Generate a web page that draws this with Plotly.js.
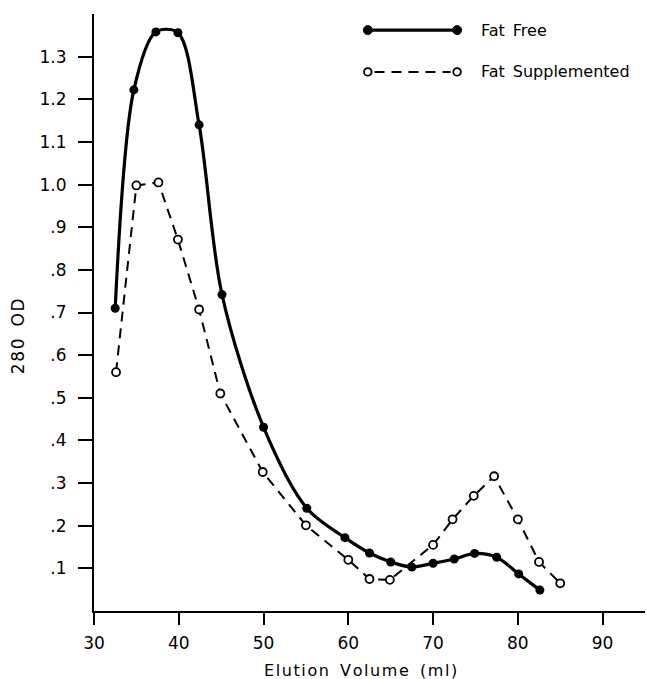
<!DOCTYPE html>
<html><head><meta charset="utf-8">
<script src="https://cdn.plot.ly/plotly-3.0.1.min.js"></script>
<style>html,body{margin:0;padding:0;background:#fff}#chart{width:647px;height:679px}</style>
</head><body><div id="chart"></div>
<script>
// Elution volume (ml) and 280 OD readings
const fatFreeX = [32.5, 34.7, 37.3, 39.9, 42.4, 45.1, 50.0, 55.1, 59.6, 62.5, 65.0, 67.5, 70.0, 72.5, 74.9, 77.5, 80.1, 82.6];
const fatFreeY = [0.71, 1.222, 1.358, 1.356, 1.14, 0.742, 0.431, 0.241, 0.172, 0.136, 0.115, 0.103, 0.112, 0.122, 0.135, 0.126, 0.087, 0.049];
const fatSuppX = [32.6, 35.0, 37.6, 39.9, 42.4, 44.9, 49.9, 55.0, 60.0, 62.5, 64.9, 70.0, 72.3, 74.8, 77.2, 80.0, 82.5, 85.0];
const fatSuppY = [0.56, 0.998, 1.005, 0.871, 0.707, 0.51, 0.326, 0.201, 0.12, 0.075, 0.073, 0.155, 0.215, 0.27, 0.316, 0.215, 0.115, 0.065];
const seriesNames = ["Fat Free", "Fat Supplemented"];
const xTicks = [30, 40, 50, 60, 70, 80, 90];
const yTicks = [0.1, 0.2, 0.3, 0.4, 0.5, 0.6, 0.7, 0.8, 0.9, 1.0, 1.1, 1.2, 1.3];
const yTickText = [".1", ".2", ".3", ".4", ".5", ".6", ".7", ".8", ".9", "1.0", "1.1", "1.2", "1.3"];
const xTitle = "Elution Volume (ml)";
const yTitle = "280 OD";

const FONT = "DejaVu Sans, Liberation Sans, sans-serif";
// widen letter spacing like the hand lettering
const spaced = s => s.split("").map(c => c === " " ? "\u2002" : c).join("\u200A");
const wordSpaced = s => s.replace(/ /g, "\u2002");

const traces = [
  {
    x: fatSuppX, y: fatSuppY, name: seriesNames[1], type: "scatter", mode: "lines+markers",
    line: {color: "#000", width: 2, dash: "10px,7px"},
    marker: {symbol: "circle", size: 8, color: "#fff", line: {color: "#000", width: 1.8}},
    cliponaxis: false
  },
  {
    x: fatFreeX, y: fatFreeY, name: seriesNames[0], type: "scatter", mode: "lines+markers",
    line: {color: "#000", width: 3.2, shape: "spline", smoothing: 0.9},
    marker: {symbol: "circle", size: 9, color: "#000"},
    cliponaxis: false
  }
];

// legend drawn as decoration in paper coordinates
const lx0 = 0.497, lx1 = 0.659, ly1 = 0.973, ly2 = 0.903, ltx = 0.699;
const shapes = [
  {type: "line", xref: "paper", yref: "paper", x0: lx0, x1: lx1, y0: ly1, y1: ly1, line: {color: "#000", width: 3.2}},
  {type: "line", xref: "paper", yref: "paper", x0: lx0 + 0.012, x1: lx1 - 0.012, y0: ly2, y1: ly2, line: {color: "#000", width: 2, dash: "10px,7px"}}
];
[lx0, lx1].forEach(px => {
  shapes.push({type: "circle", xref: "paper", yref: "paper", xsizemode: "pixel", ysizemode: "pixel",
    xanchor: px, yanchor: ly1, x0: -4.5, x1: 4.5, y0: -4.5, y1: 4.5, fillcolor: "#000", line: {color: "#000", width: 1}});
  shapes.push({type: "circle", xref: "paper", yref: "paper", xsizemode: "pixel", ysizemode: "pixel",
    xanchor: px, yanchor: ly2, x0: -3.8, x1: 3.8, y0: -3.8, y1: 3.8, fillcolor: "#fff", line: {color: "#000", width: 1.8}});
});

const layout = {
  width: 647, height: 679,
  margin: {l: 94, r: 2, t: 14, b: 68},
  paper_bgcolor: "#fff", plot_bgcolor: "#fff",
  showlegend: false,
  font: {family: FONT, color: "#000", size: 16},
  xaxis: {
    range: [30, 95], tickvals: xTicks, ticktext: xTicks.map(String),
    showline: true, linewidth: 2, linecolor: "#000",
    ticks: "outside", ticklen: 12, tickwidth: 2, tickcolor: "#000",
    showgrid: false, zeroline: false,
    tickfont: {family: FONT, size: 17},
    ticklabelstandoff: 4
  },
  yaxis: {
    range: [0, 1.4], tickvals: yTicks, ticktext: yTickText,
    showline: true, linewidth: 2, linecolor: "#000",
    ticks: "outside", ticklen: 14, tickwidth: 2, tickcolor: "#000",
    showgrid: false, zeroline: false,
    tickfont: {family: FONT, size: 17},
    ticklabelstandoff: 8
  },
  shapes: shapes,
  annotations: [
    {xref: "paper", yref: "paper", x: ltx, y: ly1, xanchor: "left", yanchor: "middle", showarrow: false,
     text: wordSpaced(seriesNames[0]), font: {family: FONT, size: 16}},
    {xref: "paper", yref: "paper", x: ltx, y: ly2, xanchor: "left", yanchor: "middle", showarrow: false,
     text: wordSpaced(seriesNames[1]), font: {family: FONT, size: 16}},
    {xref: "paper", yref: "paper", x: (360 - 94) / 551, y: -0.099, xanchor: "center", yanchor: "middle", showarrow: false,
     text: spaced(xTitle), font: {family: FONT, size: 16}},
    {xref: "paper", yref: "paper", x: -0.138, y: 0.46, xanchor: "center", yanchor: "middle", showarrow: false,
     textangle: -90, text: spaced(yTitle), font: {family: FONT, size: 17}}
  ]
};

Plotly.newPlot("chart", traces, layout, {staticPlot: true, displayModeBar: false});
</script>
</body></html>
